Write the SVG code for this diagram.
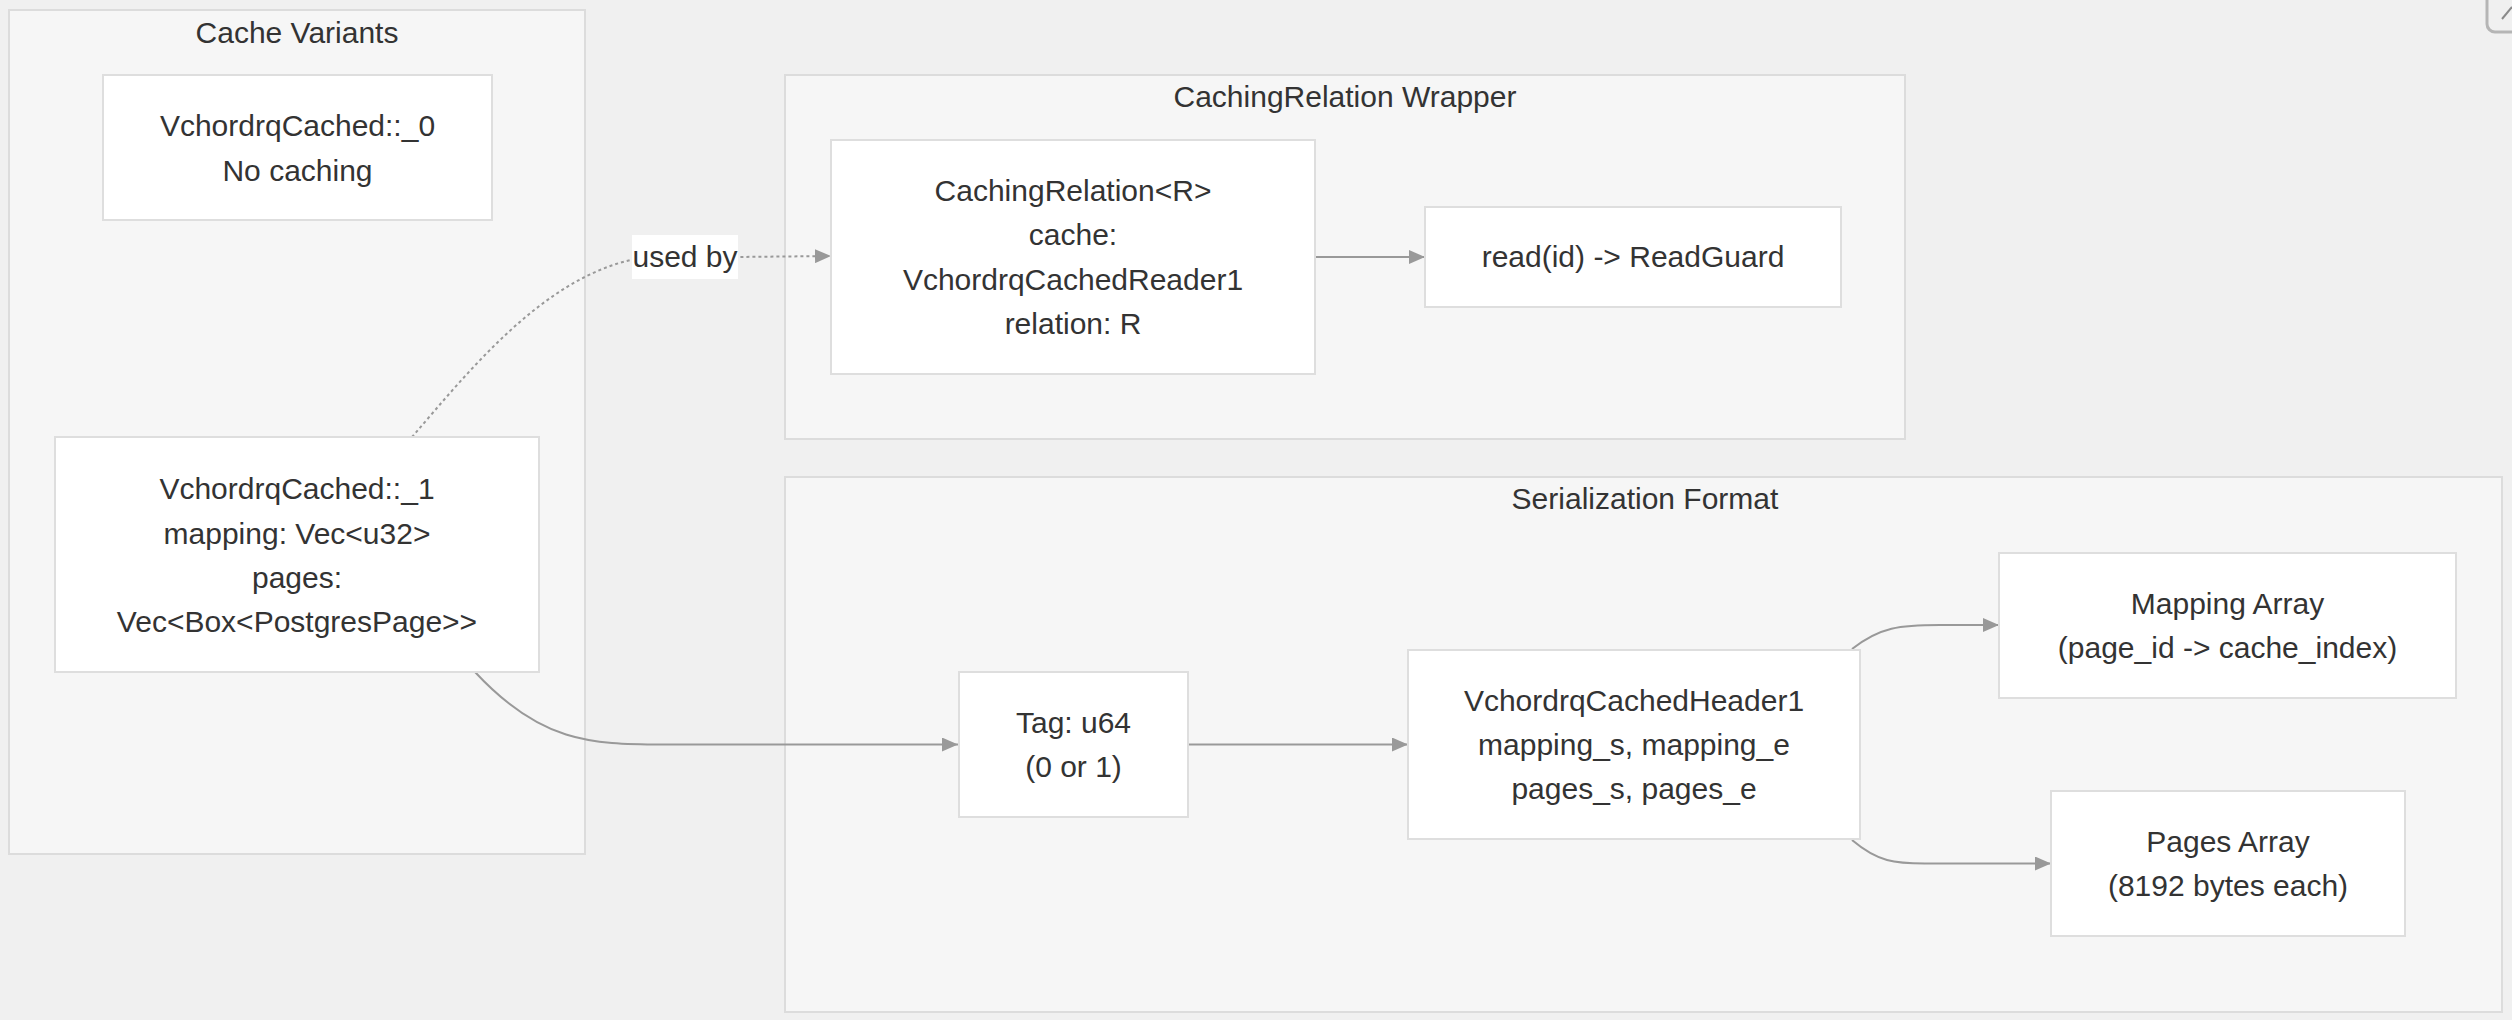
<svg xmlns="http://www.w3.org/2000/svg" width="2512" height="1020" viewBox="0 0 2512 1020">
<style>
  text { font-family: "Liberation Sans", Arial, sans-serif; font-size: 30px; fill: #333333; text-anchor: middle; }
  .cluster { fill: #f6f6f6; stroke: #dcdcdc; stroke-width: 2; }
  .node { fill: #ffffff; stroke: #dedede; stroke-width: 2; }
  .edge { fill: none; stroke: #999999; stroke-width: 2; }
  .dotted { fill: none; stroke: #999999; stroke-width: 2; stroke-dasharray: 3 3; }
  .lbl { fill: #ffffff; }
</style>
<defs>
  <marker id="arrow" viewBox="0 0 16 14" refX="16" refY="7" markerWidth="16" markerHeight="14" markerUnits="userSpaceOnUse" orient="auto">
    <path d="M0,0 L16,7 L0,14 z" fill="#999999"/>
  </marker>
</defs>
<rect x="0" y="0" width="2512" height="1020" fill="#f0f0f0"/>

<g id="cluster-cache-variants">
  <rect class="cluster" x="9" y="10" width="576" height="844"/>
  <text x="297" y="43">Cache Variants</text>
</g>
<g id="cluster-caching-relation-wrapper">
  <rect class="cluster" x="785" y="75" width="1120" height="364"/>
  <text x="1345" y="107">CachingRelation Wrapper</text>
</g>
<g id="cluster-serialization-format">
  <rect class="cluster" x="785" y="477" width="1717" height="535"/>
  <text x="1645" y="509">Serialization Format</text>
</g>

<g id="connectors">
  <path class="dotted" d="M412,437 C470,370 545,275 640,258 L831,256" marker-end="url(#arrow)"/>
  <rect class="lbl" x="632" y="235" width="106" height="44"/>
  <text x="685" y="267">used by</text>
  <path class="edge" d="M1316,257 L1425,257" marker-end="url(#arrow)"/>
  <path class="edge" d="M475,672 C540,742 590,744.5 663,744.5 L958,744.5" marker-end="url(#arrow)"/>
  <path class="edge" d="M1188,744.5 L1408,744.5" marker-end="url(#arrow)"/>
  <path class="edge" d="M1852,649 C1880,627 1900,625 1940,625 L1999,625" marker-end="url(#arrow)"/>
  <path class="edge" d="M1852,840 C1878,862 1895,863.5 1925,863.5 L2051,863.5" marker-end="url(#arrow)"/>
</g>

<g id="node-cached0">
  <rect class="node" x="103" y="75" width="389" height="145"/>
  <text x="297.5" y="136">VchordrqCached::_0</text>
  <text x="297.5" y="181">No caching</text>
</g>
<g id="node-cached1">
  <rect class="node" x="55" y="437" width="484" height="235"/>
  <text x="297" y="499">VchordrqCached::_1</text>
  <text x="297" y="544">mapping: Vec&lt;u32&gt;</text>
  <text x="297" y="588">pages:</text>
  <text x="297" y="632">Vec&lt;Box&lt;PostgresPage&gt;&gt;</text>
</g>
<g id="node-caching-relation">
  <rect class="node" x="831" y="140" width="484" height="234"/>
  <text x="1073" y="201">CachingRelation&lt;R&gt;</text>
  <text x="1073" y="245">cache:</text>
  <text x="1073" y="290">VchordrqCachedReader1</text>
  <text x="1073" y="334">relation: R</text>
</g>
<g id="node-read">
  <rect class="node" x="1425" y="207" width="416" height="100"/>
  <text x="1633" y="267">read(id) -&gt; ReadGuard</text>
</g>
<g id="node-tag">
  <rect class="node" x="959" y="672" width="229" height="145"/>
  <text x="1073.5" y="733">Tag: u64</text>
  <text x="1073.5" y="777">(0 or 1)</text>
</g>
<g id="node-header">
  <rect class="node" x="1408" y="650" width="452" height="189"/>
  <text x="1634" y="711">VchordrqCachedHeader1</text>
  <text x="1634" y="755">mapping_s, mapping_e</text>
  <text x="1634" y="799">pages_s, pages_e</text>
</g>
<g id="node-mapping-array">
  <rect class="node" x="1999" y="553" width="457" height="145"/>
  <text x="2227.5" y="614">Mapping Array</text>
  <text x="2227.5" y="658">(page_id -&gt; cache_index)</text>
</g>
<g id="node-pages-array">
  <rect class="node" x="2051" y="791" width="354" height="145"/>
  <text x="2228" y="852">Pages Array</text>
  <text x="2228" y="896">(8192 bytes each)</text>
</g>

<g id="corner-icon">
  <rect x="2487" y="-14" width="40" height="46" rx="8" fill="none" stroke="#b5b5b5" stroke-width="3"/>
  <line x1="2502" y1="19" x2="2512" y2="7" stroke="#8a8a8a" stroke-width="2"/>
</g>
</svg>
